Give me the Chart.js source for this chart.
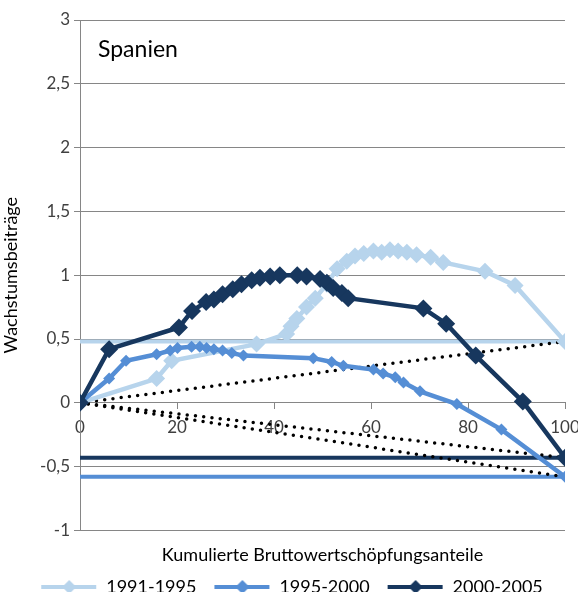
<!DOCTYPE html>
<html>
<head>
<meta charset="UTF-8">
<title>Spanien</title>
<script src="https://cdn.jsdelivr.net/npm/chart.js"></script>
<style>
  html, body { margin: 0; padding: 0; background: #fff; overflow: hidden; }
  #chart { display: block; }
</style>
</head>
<body>
<canvas id="chart" width="578" height="606"></canvas>
<script>
// series names and colours
const seriesNames = ['1991-1995', '1995-2000', '2000-2005'];
const colors = ['#b7d4ec', '#558ed5', '#17375e'];

// 1991-1995
const x9195 = [0, 15.8, 18.9, 36.4, 42.6, 43.5, 44.7, 46.7, 48.5, 50.9, 53, 55, 56.7, 58.5, 60.5, 62.2, 63.9, 65.6, 67.4, 69.4, 72.3, 74.9, 83.5, 89.7, 100];
const y9195 = [0, 0.19, 0.33, 0.46, 0.54, 0.6, 0.66, 0.75, 0.82, 0.93, 1.05, 1.11, 1.15, 1.17, 1.19, 1.18, 1.2, 1.19, 1.18, 1.16, 1.14, 1.1, 1.03, 0.92, 0.48];

// 1995-2000
const x9500 = [0, 6, 9.5, 15.8, 18.6, 20.1, 23, 24.7, 26.1, 27.6, 29.4, 31.3, 33.7, 48.1, 51.9, 54.3, 60.5, 62.5, 65, 66.7, 70.1, 77.7, 86.9, 100];
const y9500 = [0, 0.19, 0.33, 0.38, 0.41, 0.43, 0.44, 0.44, 0.43, 0.42, 0.41, 0.39, 0.37, 0.35, 0.32, 0.29, 0.26, 0.23, 0.2, 0.16, 0.09, -0.01, -0.21, -0.58];

// 2000-2005
const x0005 = [0, 6, 20.4, 23.1, 26, 27.6, 29.4, 31.5, 33.3, 35.4, 37.1, 39.2, 41.2, 44.8, 46.7, 49.5, 50.9, 52.2, 54, 55.3, 70.8, 75.5, 81.6, 91.3, 100];
const y0005 = [0, 0.42, 0.59, 0.72, 0.79, 0.81, 0.85, 0.89, 0.93, 0.96, 0.98, 0.99, 1.0, 1.0, 0.99, 0.97, 0.94, 0.9, 0.86, 0.82, 0.74, 0.62, 0.37, 0.01, -0.43];

// end values (horizontal reference lines + dotted diagonals)
const endLevels = [0.48, -0.58, -0.43];

const xTicks = [0, 20, 40, 60, 80, 100];
const yMin = -1, yMax = 3, yStep = 0.5;

function pts(xs, ys) {
  return xs.map((x, i) => ({ x: x, y: ys[i] }));
}

// small picture for legend: line with diamond (transparent strip on the left)
function legendIcon(color, r) {
  const c = document.createElement('canvas');
  c.width = 62; c.height = 16;
  const g = c.getContext('2d');
  g.strokeStyle = color;
  g.lineWidth = 4;
  g.beginPath(); g.moveTo(6, 8); g.lineTo(61, 8); g.stroke();
  g.fillStyle = color;
  g.beginPath();
  g.moveTo(34 - r, 8); g.lineTo(34, 8 - r); g.lineTo(34 + r, 8); g.lineTo(34, 8 + r);
  g.closePath(); g.fill();
  return c;
}
const icons = [legendIcon(colors[0], 7), legendIcon(colors[1], 7), legendIcon(colors[2], 7)];

const mainData = [[x9195, y9195], [x9500, y9500], [x0005, y0005]];
const radii = [8.5, 6, 9];

const datasets = [];
mainData.forEach((d, i) => {
  datasets.push({
    label: seriesNames[i],
    data: pts(d[0], d[1]),
    showLine: true,
    borderColor: colors[i],
    backgroundColor: colors[i],
    borderWidth: 4.5,
    pointStyle: 'rectRot',
    pointRadius: radii[i],
    pointBorderWidth: 0,
    order: 3 - i
  });
});
endLevels.forEach((v, i) => {
  datasets.push({
    label: 'level' + i,
    data: [{ x: 0, y: v }, { x: 100, y: v }],
    showLine: true,
    borderColor: colors[i],
    borderWidth: 4,
    pointRadius: 0,
    order: 10
  });
  datasets.push({
    label: 'diag' + i,
    data: [{ x: 0, y: 0 }, { x: 100, y: v }],
    showLine: true,
    borderColor: '#000',
    borderWidth: 3.5,
    borderDash: [0, 8.3],
    borderCapStyle: 'round',
    pointRadius: 0,
    order: 9
  });
});

const spanienLabel = {
  id: 'spanienLabel',
  afterDraw(chart) {
    const ctx = chart.ctx;
    ctx.save();
    ctx.font = '23px Lato';
    ctx.fillStyle = '#000';
    ctx.textBaseline = 'alphabetic';
    ctx.fillText('Spanien', chart.chartArea.left + 18, chart.chartArea.top + 37);
    ctx.restore();
  }
};

const ctx = document.getElementById('chart').getContext('2d');
new Chart(ctx, {
  type: 'scatter',
  data: { datasets: datasets },
  options: {
    responsive: false,
    animation: false,
    layout: { padding: { top: 20, right: 0, left: 0, bottom: 0 } },
    plugins: {
      tooltip: { enabled: false },
      legend: {
        position: 'bottom',
        labels: {
          usePointStyle: true,
          pointStyleWidth: 62,
          padding: 12,
          color: '#000',
          font: { family: 'Lato', size: 18 },
          generateLabels(chart) {
            return seriesNames.map((n, i) => ({
              text: n,
              pointStyle: icons[i],
              fillStyle: colors[i],
              strokeStyle: colors[i],
              lineWidth: 0,
              hidden: false,
              datasetIndex: i
            }));
          }
        }
      }
    },
    scales: {
      x: {
        type: 'linear',
        min: 0,
        max: 100,
        position: { y: 0 },
        afterBuildTicks(scale) {
          scale.ticks = xTicks.map(v => ({ value: v }));
        },
        afterFit(scale) { scale.paddingRight = 13; },
        grid: { drawOnChartArea: false, drawTicks: true, tickLength: 6, color: '#868686' },
        border: { display: true, color: '#868686', width: 1 },
        ticks: {
          color: '#404040',
          font: { family: 'Lato', size: 17 },
          padding: 9,
          maxRotation: 0
        }
      },
      xTitle: {
        type: 'linear',
        axis: 'x',
        position: 'bottom',
        display: true,
        min: 0,
        max: 100,
        grid: { display: false },
        border: { display: false },
        ticks: { display: false },
        title: {
          display: true,
          text: 'Kumulierte Bruttowertschöpfungsanteile',
          color: '#000',
          font: { family: 'Lato', size: 18 },
          padding: { top: 6, bottom: 0 }
        }
      },
      y: {
        min: yMin,
        max: yMax,
        ticks: {
          stepSize: yStep,
          color: '#404040',
          font: { family: 'Lato', size: 17 },
          padding: 4,
          callback: v => String(v).replace('.', ',')
        },
        grid: { color: '#868686', tickLength: 6 },
        border: { display: true, color: '#868686', width: 1 },
        title: {
          display: true,
          text: 'Wachstumsbeiträge',
          color: '#000',
          font: { family: 'Lato', size: 18 },
          padding: { top: 0, bottom: 0 }
        },
        afterFit(scale) { scale.width = 80; }
      }
    }
  },
  plugins: [spanienLabel]
});
</script>
</body>
</html>
